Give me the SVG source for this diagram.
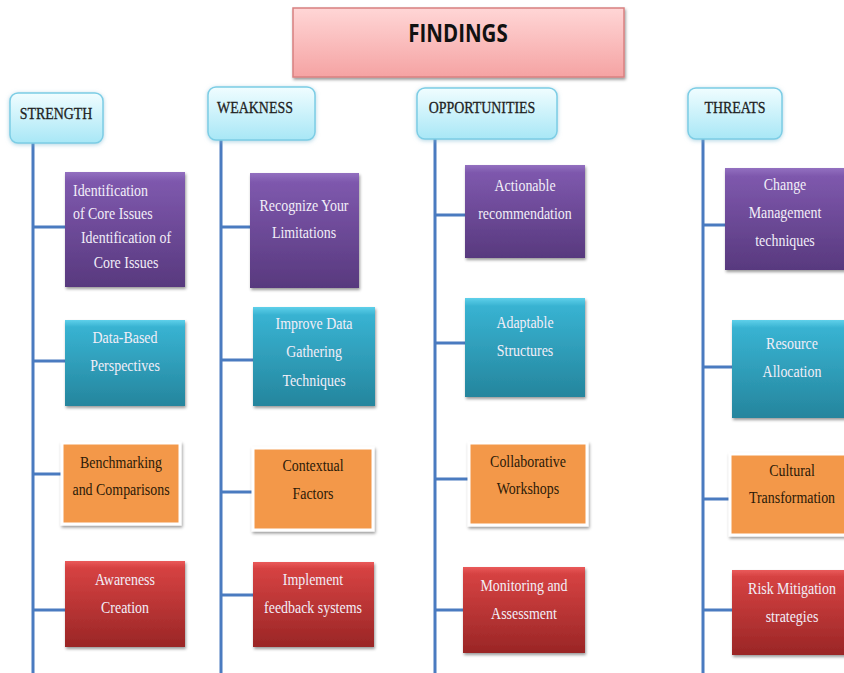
<svg xmlns="http://www.w3.org/2000/svg" width="844" height="673" viewBox="0 0 844 673">
<defs>
<linearGradient id="gTitle" x1="0" y1="0" x2="0" y2="1"><stop offset="0" stop-color="#ffd6d6"/><stop offset="1" stop-color="#f5a3a3"/></linearGradient>
<linearGradient id="gHead" x1="0" y1="0" x2="0" y2="1"><stop offset="0" stop-color="#f0fdff"/><stop offset="1" stop-color="#a8e7f6"/></linearGradient>
<linearGradient id="gP" x1="0" y1="0" x2="0" y2="1"><stop offset="0" stop-color="#9370c0"/><stop offset="0.08" stop-color="#7e58ad"/><stop offset="1" stop-color="#58397e"/></linearGradient>
<linearGradient id="gT" x1="0" y1="0" x2="0" y2="1"><stop offset="0" stop-color="#5fd0ea"/><stop offset="0.08" stop-color="#38b3d2"/><stop offset="1" stop-color="#25859d"/></linearGradient>
<linearGradient id="gR" x1="0" y1="0" x2="0" y2="1"><stop offset="0" stop-color="#ea5a5a"/><stop offset="0.08" stop-color="#d64242"/><stop offset="1" stop-color="#9a2626"/></linearGradient>
<filter id="sh" x="-10%" y="-10%" width="125%" height="130%"><feDropShadow dx="1" dy="2" stdDeviation="1.5" flood-color="#000" flood-opacity="0.4"/></filter>
<filter id="glow" x="-10%" y="-15%" width="120%" height="135%"><feDropShadow dx="0" dy="1" stdDeviation="2" flood-color="#7ab8d0" flood-opacity="0.6"/></filter>
</defs>
<style>
.line{stroke:#4a7bc0;stroke-width:3;fill:none}
.head rect{fill:url(#gHead);stroke:#7ccde5;stroke-width:1.5}
.head text{font-family:"Liberation Serif",serif;font-size:17px;fill:#222;stroke:#222;stroke-width:0.3;text-anchor:middle}
.box text{font-family:"Liberation Serif",serif;font-size:17px;text-anchor:middle}
.p rect{fill:url(#gP)}
.t rect{fill:url(#gT)}
.r rect{fill:url(#gR)}
.o rect{fill:#f3984a;stroke:#fff;stroke-width:3}
.p text,.t text,.r text{fill:#f2eef8}
.o text{fill:#2b1a08}
</style>
<rect width="844" height="673" fill="#fff"/>

<g id="connectors">
<path class="line" d="M33 143V673M33 227H65M33 361H65M33 474H62M33 610H65"/>
<path class="line" d="M221 140V673M221 227H250M221 360H253M221 492H253M221 595H253"/>
<path class="line" d="M435 139V673M435 215H465M435 343H465M435 479H469M435 610H463"/>
<path class="line" d="M703 139V673M703 225H725M703 367H732M703 499H730M703 610H732"/>
</g>

<g id="title">
<rect x="293" y="8" width="331" height="69" fill="url(#gTitle)" stroke="#d88080" stroke-width="1.5" filter="url(#sh)"/>
<text transform="translate(458 42) scale(0.82 1)" x="0" y="0" font-family="'Open Sans','Liberation Sans',sans-serif" font-weight="bold" font-size="25" fill="#111" text-anchor="middle">FINDINGS</text>
</g>

<g id="h-strength" class="head"><rect x="10" y="93" width="93" height="50" rx="8" filter="url(#glow)"/><text transform="translate(56 119) scale(0.82 1)">STRENGTH</text></g>
<g id="h-weakness" class="head"><rect x="208" y="87" width="107" height="53" rx="8" filter="url(#glow)"/><text transform="translate(255 113) scale(0.82 1)">WEAKNESS</text></g>
<g id="h-opportunities" class="head"><rect x="417" y="88" width="140" height="51" rx="8" filter="url(#glow)"/><text transform="translate(482 113) scale(0.82 1)">OPPORTUNITIES</text></g>
<g id="h-threats" class="head"><rect x="688" y="88" width="94" height="51" rx="8" filter="url(#glow)"/><text transform="translate(735 113) scale(0.82 1)">THREATS</text></g>

<g id="s1" class="box p"><rect x="65" y="172" width="120" height="115" filter="url(#sh)"/>
<text transform="translate(73 196) scale(0.82 1)" style="text-anchor:start">Identification</text>
<text transform="translate(73 219) scale(0.82 1)" style="text-anchor:start">of Core Issues</text>
<text transform="translate(126 243) scale(0.82 1)">Identification of</text>
<text transform="translate(126 268) scale(0.82 1)">Core Issues</text></g>
<g id="s2" class="box t"><rect x="65" y="320" width="120" height="86" filter="url(#sh)"/>
<text transform="translate(125 343) scale(0.82 1)">Data-Based</text>
<text transform="translate(125 371) scale(0.82 1)">Perspectives</text></g>
<g id="s3" class="box o"><rect x="62" y="443" width="118" height="81" filter="url(#sh)"/>
<text transform="translate(121 468) scale(0.82 1)">Benchmarking</text>
<text transform="translate(121 495) scale(0.82 1)">and Comparisons</text></g>
<g id="s4" class="box r"><rect x="65" y="561" width="120" height="86" filter="url(#sh)"/>
<text transform="translate(125 585) scale(0.82 1)">Awareness</text>
<text transform="translate(125 613) scale(0.82 1)">Creation</text></g>

<g id="w1" class="box p"><rect x="250" y="173" width="109" height="115" filter="url(#sh)"/>
<text transform="translate(304 211) scale(0.82 1)">Recognize Your</text>
<text transform="translate(304 238) scale(0.82 1)">Limitations</text></g>
<g id="w2" class="box t"><rect x="253" y="307" width="122" height="99" filter="url(#sh)"/>
<text transform="translate(314 329) scale(0.82 1)">Improve Data</text>
<text transform="translate(314 357) scale(0.82 1)">Gathering</text>
<text transform="translate(314 386) scale(0.82 1)">Techniques</text></g>
<g id="w3" class="box o"><rect x="253" y="448" width="120" height="82" filter="url(#sh)"/>
<text transform="translate(313 471) scale(0.82 1)">Contextual</text>
<text transform="translate(313 499) scale(0.82 1)">Factors</text></g>
<g id="w4" class="box r"><rect x="253" y="562" width="121" height="85" filter="url(#sh)"/>
<text transform="translate(313 585) scale(0.82 1)">Implement</text>
<text transform="translate(313 613) scale(0.82 1)">feedback systems</text></g>

<g id="o1" class="box p"><rect x="465" y="165" width="120" height="93" filter="url(#sh)"/>
<text transform="translate(525 191) scale(0.82 1)">Actionable</text>
<text transform="translate(525 219) scale(0.82 1)">recommendation</text></g>
<g id="o2" class="box t"><rect x="465" y="298" width="120" height="99" filter="url(#sh)"/>
<text transform="translate(525 328) scale(0.82 1)">Adaptable</text>
<text transform="translate(525 356) scale(0.82 1)">Structures</text></g>
<g id="o3" class="box o"><rect x="469" y="443" width="118" height="82" filter="url(#sh)"/>
<text transform="translate(528 467) scale(0.82 1)">Collaborative</text>
<text transform="translate(528 494) scale(0.82 1)">Workshops</text></g>
<g id="o4" class="box r"><rect x="463" y="567" width="122" height="86" filter="url(#sh)"/>
<text transform="translate(524 591) scale(0.82 1)">Monitoring and</text>
<text transform="translate(524 619) scale(0.82 1)">Assessment</text></g>

<g id="t1" class="box p"><rect x="725" y="168" width="125" height="102" filter="url(#sh)"/>
<text transform="translate(785 190) scale(0.82 1)">Change</text>
<text transform="translate(785 218) scale(0.82 1)">Management</text>
<text transform="translate(785 246) scale(0.82 1)">techniques</text></g>
<g id="t2" class="box t"><rect x="732" y="320" width="120" height="98" filter="url(#sh)"/>
<text transform="translate(792 349) scale(0.82 1)">Resource</text>
<text transform="translate(792 377) scale(0.82 1)">Allocation</text></g>
<g id="t3" class="box o"><rect x="730" y="454" width="120" height="81" filter="url(#sh)"/>
<text transform="translate(792 476) scale(0.82 1)">Cultural</text>
<text transform="translate(792 503) scale(0.82 1)">Transformation</text></g>
<g id="t4" class="box r"><rect x="732" y="570" width="120" height="85" filter="url(#sh)"/>
<text transform="translate(792 594) scale(0.82 1)">Risk Mitigation</text>
<text transform="translate(792 622) scale(0.82 1)">strategies</text></g>
</svg>
